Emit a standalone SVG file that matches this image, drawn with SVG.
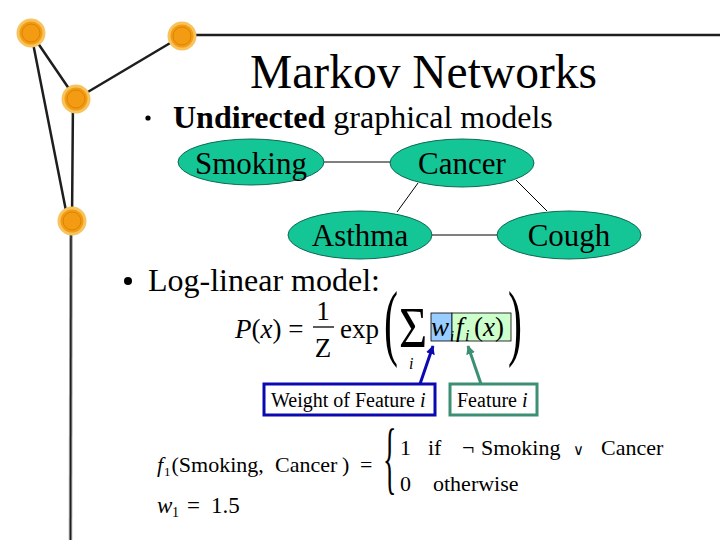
<svg xmlns="http://www.w3.org/2000/svg" width="720" height="540" viewBox="0 0 720 540">
<defs>
<style>
.deco{stroke:#1e1e1e;stroke-width:2.5;fill:none;stroke-linecap:round}
.dot{fill:#f49b14;stroke:#f6c35e;stroke-width:3}
.dotin{fill:none;stroke:#d98500;stroke-width:1}
.serif{font-family:"Liberation Serif","Times New Roman",serif;fill:#000}
.node{fill:#14c596;stroke:#0d6b52;stroke-width:1}
.nlabel{font-family:"Liberation Serif","Times New Roman",serif;font-size:31px;text-anchor:middle;fill:#000}
.edge{stroke:#000;stroke-width:1;fill:none}
.it{font-style:italic}
</style>
<marker id="ab" viewBox="0 0 10 10" refX="9" refY="5" markerWidth="9" markerHeight="9" markerUnits="userSpaceOnUse" orient="auto"><path d="M0,0 L10,5 L0,10 Z" fill="#0a0ab0"/></marker>
<marker id="ag" viewBox="0 0 10 10" refX="9" refY="5" markerWidth="9" markerHeight="9" markerUnits="userSpaceOnUse" orient="auto"><path d="M0,0 L10,5 L0,10 Z" fill="#3d8f73"/></marker>
</defs>
<rect width="720" height="540" fill="#fff"/>

<g id="decoration">
<line class="deco" x1="182" y1="35" x2="720" y2="35"/>
<line class="deco" x1="31" y1="33" x2="68" y2="221"/>
<line class="deco" x1="31" y1="33" x2="76" y2="99"/>
<line class="deco" x1="76" y1="99" x2="182" y2="36"/>
<line class="deco" x1="73" y1="99" x2="72" y2="221"/>
<line x1="71" y1="221" x2="70.5" y2="540" stroke="#9a9a9a" stroke-width="3.5"/>
<line x1="71" y1="221" x2="70.5" y2="540" stroke="#1e1e1e" stroke-width="1.5"/>
<circle class="dot" cx="31" cy="33" r="13"/><circle class="dotin" cx="31" cy="33" r="9"/>
<circle class="dot" cx="182" cy="36" r="13"/><circle class="dotin" cx="182" cy="36" r="9"/>
<circle class="dot" cx="76" cy="99" r="13"/><circle class="dotin" cx="76" cy="99" r="9"/>
<circle class="dot" cx="72" cy="221" r="13"/><circle class="dotin" cx="72" cy="221" r="9"/>
</g>

<text class="serif" x="250" y="88" font-size="47.5">Markov Networks</text>

<circle cx="148" cy="118" r="2.6" fill="#000"/>
<text class="serif" x="173" y="128" font-size="32"><tspan font-weight="bold">Undirected</tspan> graphical models</text>

<g id="connectors">
<line class="edge" x1="324" y1="162" x2="390" y2="162"/>
<line class="edge" x1="418" y1="183" x2="397" y2="212"/>
<line class="edge" x1="516" y1="180" x2="547" y2="211"/>
<line class="edge" x1="432" y1="235" x2="497" y2="235"/>
<line x1="420" y1="384" x2="433" y2="346" stroke="#0a0ab0" stroke-width="3" marker-end="url(#ab)"/>
<line x1="481" y1="384" x2="468" y2="346" stroke="#3d8f73" stroke-width="3" marker-end="url(#ag)"/>
</g>

<g id="node-smoking"><ellipse class="node" cx="251" cy="162" rx="73" ry="23"/><text class="nlabel" x="251" y="174">Smoking</text></g>
<g id="node-cancer"><ellipse class="node" cx="462" cy="163" rx="72" ry="24"/><text class="nlabel" x="462" y="174">Cancer</text></g>
<g id="node-asthma"><ellipse class="node" cx="360" cy="235" rx="72" ry="24"/><text class="nlabel" x="360" y="246">Asthma</text></g>
<g id="node-cough"><ellipse class="node" cx="569" cy="235" rx="72" ry="24"/><text class="nlabel" x="569" y="246">Cough</text></g>

<circle cx="128" cy="281" r="4" fill="#000"/>
<text class="serif" x="148" y="291" font-size="32">Log-linear model:</text>

<g id="formula">
<text class="serif" x="235" y="338" font-size="27"><tspan class="it">P</tspan>(<tspan class="it">x</tspan>) =</text>
<text class="serif" x="323" y="320" font-size="27" text-anchor="middle">1</text>
<line x1="313" y1="327" x2="334" y2="327" stroke="#000" stroke-width="1.3"/>
<text class="serif" x="323" y="357" font-size="27" text-anchor="middle">Z</text>
<text class="serif" x="340" y="338" font-size="27">exp</text>
<text class="serif" font-size="84" transform="translate(384,350) scale(0.5,1)">(</text>
<text class="serif" font-size="57" transform="translate(399,347) scale(0.85,1)">Σ</text>
<text class="serif it" x="409" y="369" font-size="16">i</text>
<rect x="431" y="313" width="21" height="28" fill="#99ccff" stroke="#000" stroke-width="0.8"/>
<rect x="452" y="313" width="59" height="28" fill="#ccffcc" stroke="#000" stroke-width="0.8"/>
<text class="serif it" x="431" y="336" font-size="27">w</text>
<text class="serif it" x="450" y="341" font-size="15">i</text>
<text class="serif it" x="456" y="336" font-size="27">f</text>
<text class="serif it" x="465" y="341" font-size="16">i</text>
<text class="serif" x="474" y="336" font-size="27">(<tspan class="it">x</tspan>)</text>
<text class="serif" font-size="84" transform="translate(508,350) scale(0.5,1)">)</text>
</g>

<g id="box-weight">
<rect x="264" y="384" width="171" height="31" fill="#fff" stroke="#0a0ab0" stroke-width="3"/>
<text class="serif" x="271" y="407" font-size="20">Weight of Feature <tspan class="it">i</tspan></text>
</g>
<g id="box-feature">
<rect x="450" y="384" width="87" height="31" fill="#fff" stroke="#3d8f73" stroke-width="3"/>
<text class="serif" x="457" y="407" font-size="20">Feature <tspan class="it">i</tspan></text>
</g>

<g id="definition" font-size="22">
<text class="serif it" x="157" y="472">f</text>
<text class="serif" x="164" y="476" font-size="13">1</text>
<text class="serif" x="171.5" y="472">(Smoking,</text>
<text class="serif" x="275" y="472">Cancer</text>
<text class="serif" x="342" y="472">)</text>
<text class="serif" x="360" y="472">=</text>
<text class="serif" font-size="80" transform="translate(383,484) scale(0.35,1)">{</text>
<text class="serif" x="400" y="455">1</text>
<text class="serif" x="428" y="455">if</text>
<text class="serif" x="462" y="455">¬</text>
<text class="serif" x="481" y="455">Smoking</text>
<text x="573" y="455" font-size="15" font-family="'DejaVu Sans',sans-serif">∨</text>
<text class="serif" x="601" y="455">Cancer</text>
<text class="serif" x="400" y="491">0</text>
<text class="serif" x="433" y="491">otherwise</text>
<text class="serif it" x="157" y="513" font-size="23">w</text>
<text class="serif" x="172" y="517" font-size="14">1</text>
<text class="serif" x="187" y="513" font-size="23">=</text>
<text class="serif" x="211" y="513" font-size="23">1.5</text>
</g>
</svg>
